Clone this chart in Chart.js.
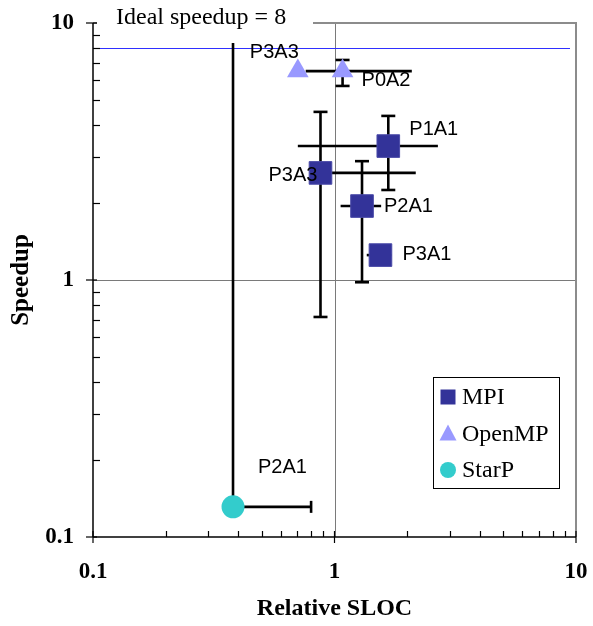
<!DOCTYPE html>
<html lang="en">
<head>
<meta charset="UTF-8" />
<title>Speedup vs Relative SLOC</title>
<script src="https://cdn.jsdelivr.net/npm/chart.js@4.4.1/dist/chart.umd.min.js"></script>
<style>
  html, body { margin: 0; padding: 0; background: #fff; }
  canvas { display: block; }
</style>
</head>
<body>
<canvas id="myChart" width="593" height="626"></canvas>
<script>
  // MPI
  const mpiNames = ["P1A1", "P3A3", "P2A1", "P3A1"];
  const mpiSloc = [1.67, 0.875, 1.30, 1.55];
  const mpiSpeedup = [3.32, 2.61, 1.94, 1.25];
  const mpiSlocLo = [0.705, 0.875, 1.06, 1.36];
  const mpiSlocHi = [2.68, 2.17, 1.56, 1.72];
  const mpiSpeedLo = [2.24, 0.718, 0.98, 1.25];
  const mpiSpeedHi = [4.35, 4.51, 2.90, 1.25];

  // OpenMP
  const ompNames = ["P3A3", "P0A2"];
  const ompSloc = [0.705, 1.08];
  const ompSpeedup = [6.5, 6.5];
  const ompSlocLo = [0.705, 0.76];
  const ompSlocHi = [0.705, 2.09];
  const ompSpeedLo = [6.5, 5.69];
  const ompSpeedHi = [6.5, 7.18];

  // StarP
  const starNames = ["P2A1"];
  const starSloc = [0.38];
  const starSpeedup = [0.131];
  const starSlocLo = [0.38];
  const starSlocHi = [0.80];
  const starSpeedLo = [0.131];
  const starSpeedHi = [8.36];

  const idealSpeedup = 8;
  const axisTicks = [0.1, 1, 10];
  const tickText = ["0.1", "1", "10"];

  const toPoints = (xs, ys) => xs.map((v, i) => ({ x: v, y: ys[i] }));

  // error bar sets, with cap flags and label offsets (style only)
  const series = [
    { names: mpiNames, x: mpiSloc, y: mpiSpeedup, xlo: mpiSlocLo, xhi: mpiSlocHi, ylo: mpiSpeedLo, yhi: mpiSpeedHi,
      capX: false, capY: true, offs: [[21, -17], [-52, 3], [22, 0], [22, -1]] },
    { names: ompNames, x: ompSloc, y: ompSpeedup, xlo: ompSlocLo, xhi: ompSlocHi, ylo: ompSpeedLo, yhi: ompSpeedHi,
      capX: false, capY: true, offs: [[-48, -19], [19, 9]] },
    { names: starNames, x: starSloc, y: starSpeedup, xlo: starSlocLo, xhi: starSlocHi, ylo: starSpeedLo, yhi: starSpeedHi,
      capX: true, capY: false, offs: [[25, -39]] }
  ];

  const serif = '"Liberation Serif", "Times New Roman", serif';
  const sans = '"Liberation Sans", Arial, sans-serif';

  function line(ctx, x1, y1, x2, y2) {
    ctx.beginPath(); ctx.moveTo(x1, y1); ctx.lineTo(x2, y2); ctx.stroke();
  }

  const decor = {
    id: "decor",
    beforeDatasetsDraw(chart) {
      const { ctx, chartArea: a, scales: { x, y } } = chart;
      ctx.save();
      // grid lines at 1
      ctx.strokeStyle = "#7a7a7a"; ctx.lineWidth = 1;
      const gx = Math.round(x.getPixelForValue(1)) + 0.5;
      const gy = Math.round(y.getPixelForValue(1)) + 0.5;
      line(ctx, gx, a.top, gx, a.bottom);
      line(ctx, a.left, gy, a.right, gy);
      // top / right frame
      ctx.strokeStyle = "#8c8c8c"; ctx.lineWidth = 2;
      ctx.beginPath(); ctx.moveTo(a.left, a.top); ctx.lineTo(a.right, a.top); ctx.lineTo(a.right, a.bottom); ctx.stroke();
      // ideal speedup line
      ctx.strokeStyle = "#2f2fff"; ctx.lineWidth = 1;
      const yi = Math.round(y.getPixelForValue(idealSpeedup)) + 0.5;
      line(ctx, a.left + 7, yi, a.right - 6, yi);
      // error bars
      ctx.strokeStyle = "#000"; ctx.lineWidth = 2.6;
      series.forEach(s => {
        s.x.forEach((xv, i) => {
          const px = x.getPixelForValue(xv), py = y.getPixelForValue(s.y[i]);
          const xl = x.getPixelForValue(s.xlo[i]), xh = x.getPixelForValue(s.xhi[i]);
          const yl = y.getPixelForValue(s.ylo[i]), yh = y.getPixelForValue(s.yhi[i]);
          if (xh - xl > 1) {
            line(ctx, xl, py, xh, py);
            if (s.capX) {
              if (px - xl > 1) line(ctx, xl, py - 6, xl, py + 6);
              if (xh - px > 1) line(ctx, xh, py - 6, xh, py + 6);
            }
          }
          if (yl - yh > 1) {
            line(ctx, px, yl, px, yh);
            if (s.capY) {
              if (yl - py > 1) line(ctx, px - 7, yl, px + 7, yl);
              if (py - yh > 1) line(ctx, px - 7, yh, px + 7, yh);
            }
          }
        });
      });
      ctx.restore();
    },
    afterDatasetsDraw(chart) {
      const { ctx, chartArea: a, scales: { x, y } } = chart;
      ctx.save();
      // point labels
      ctx.fillStyle = "#000"; ctx.font = "20px " + sans;
      ctx.textAlign = "left"; ctx.textBaseline = "middle";
      series.forEach(s => {
        s.names.forEach((n, i) => {
          const px = x.getPixelForValue(s.x[i]), py = y.getPixelForValue(s.y[i]);
          ctx.fillText(n, px + s.offs[i][0], py + s.offs[i][1]);
        });
      });
      // ideal speedup label box
      ctx.fillStyle = "#fff";
      ctx.fillRect(a.left + 4, 2, 216, 32);
      ctx.fillStyle = "#000"; ctx.font = "24px " + serif;
      ctx.textBaseline = "middle";
      ctx.fillText("Ideal speedup = " + idealSpeedup, a.left + 23, 18);

      // axes
      ctx.strokeStyle = "#000"; ctx.lineWidth = 1.5;
      line(ctx, a.left, a.top, a.left, a.bottom);
      line(ctx, a.left, a.bottom, a.right, a.bottom);
      ctx.lineWidth = 1.2;
      for (let d = 0.1; d < 10; d *= 10) {
        for (let m = 2; m <= 9; m++) {
          const v = d * m;
          const tx = Math.round(x.getPixelForValue(v)) + 0.5;
          line(ctx, tx, a.bottom, tx, a.bottom - 6);
          const ty = Math.round(y.getPixelForValue(v)) + 0.5;
          line(ctx, a.left, ty, a.left + 7, ty);
        }
      }
      axisTicks.forEach(v => {
        const tx = x.getPixelForValue(v), ty = y.getPixelForValue(v);
        line(ctx, tx, a.bottom - 6, tx, a.bottom + 6);
        line(ctx, a.left - 7, ty, a.left + 4, ty);
      });
      // tick labels
      ctx.font = "bold 23px " + serif;
      ctx.textAlign = "right"; ctx.textBaseline = "middle";
      axisTicks.forEach((v, i) => ctx.fillText(tickText[i], a.left - 19, y.getPixelForValue(v)));
      ctx.textAlign = "center";
      axisTicks.forEach((v, i) => ctx.fillText(tickText[i], x.getPixelForValue(v), a.bottom + 35));
      // axis titles
      ctx.font = "bold 24px " + serif;
      ctx.fillText("Relative SLOC", x.getPixelForValue(1), a.bottom + 72);
      ctx.save();
      ctx.font = "bold 25px " + serif;
      ctx.translate(22, y.getPixelForValue(1));
      ctx.rotate(-Math.PI / 2);
      ctx.fillText("Speedup", 0, 0);
      ctx.restore();

      // legend
      const lx = 433, ly = 377;
      ctx.fillStyle = "#fff"; ctx.fillRect(lx, ly, 126, 111);
      ctx.strokeStyle = "#000"; ctx.lineWidth = 1;
      ctx.strokeRect(lx + 0.5, ly + 0.5, 126, 111);
      chart.data.datasets.forEach((ds, i) => {
        const cy = ly + 20 + i * 36.5, cx = lx + 15;
        ctx.fillStyle = ds.backgroundColor;
        ctx.beginPath();
        if (ds.pointStyle === "rect") ctx.rect(cx - 7.5, cy - 7.5, 15, 15);
        else if (ds.pointStyle === "triangle") { ctx.moveTo(cx, cy - 9); ctx.lineTo(cx + 8.5, cy + 7); ctx.lineTo(cx - 8.5, cy + 7); ctx.closePath(); }
        else ctx.arc(cx, cy, 8, 0, Math.PI * 2);
        ctx.fill();
        ctx.fillStyle = "#000"; ctx.font = "24px " + serif;
        ctx.textAlign = "left";
        ctx.fillText(ds.label, lx + 29, cy + 1);
      });
      ctx.restore();
    }
  };

  const ctx = document.getElementById("myChart").getContext("2d");
  const myChart = new Chart(ctx, {
    type: "scatter",
    data: {
      datasets: [
        { label: "MPI", data: toPoints(mpiSloc, mpiSpeedup), pointStyle: "rect", pointRadius: 16,
          backgroundColor: "#333399", borderColor: "#4a4aa8", borderWidth: 1 },
        { label: "OpenMP", data: toPoints(ompSloc, ompSpeedup), pointStyle: "triangle", pointRadius: 12.5,
          backgroundColor: "#9999ff", borderColor: "#9999ff", borderWidth: 0 },
        { label: "StarP", data: toPoints(starSloc, starSpeedup), pointStyle: "circle", pointRadius: 11.5,
          backgroundColor: "#33cccc", borderColor: "#33cccc", borderWidth: 0 }
      ]
    },
    options: {
      responsive: false,
      animation: false,
      events: [],
      layout: { padding: { left: 93, right: 14, top: 23, bottom: 89 } },
      scales: {
        x: { type: "logarithmic", min: 0.1, max: 10, display: false },
        y: { type: "logarithmic", min: 0.1, max: 10, display: false }
      },
      plugins: { legend: { display: false }, tooltip: { enabled: false } }
    },
    plugins: [decor]
  });
</script>
</body>
</html>
